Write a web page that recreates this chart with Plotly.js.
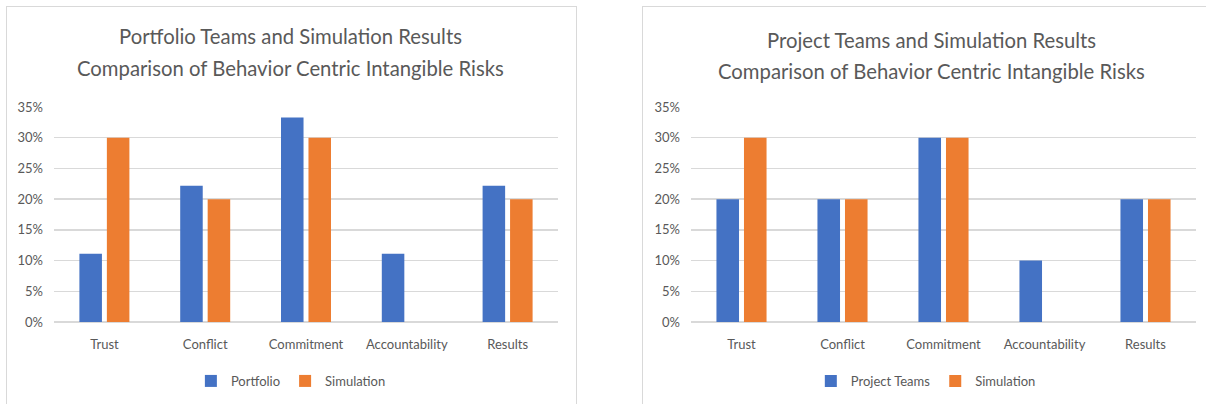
<!DOCTYPE html>
<html>
<head>
<meta charset="utf-8">
<script src="https://cdn.plot.ly/plotly-3.0.1.min.js"></script>
<style>
  html, body { margin: 0; padding: 0; width: 1206px; height: 404px; overflow: hidden; background: #fff; }
  .panel { position: absolute; border: 1px solid #d9d9d9; height: 430px; background: #fff; }
  #p1 { left: 6px; top: 6px; width: 569px; }
  #p2 { left: 642px; top: 6px; width: 600px; }
  .chart { position: absolute; left: 0; top: 0; height: 397px; }
  #c1 { width: 569px; }
  #c2 { width: 563px; }
</style>
</head>
<body>
<div class="panel" id="p1"><div class="chart" id="c1"></div></div>
<div class="panel" id="p2"><div class="chart" id="c2"></div></div>
<script>
// Data
const categories = ["Trust", "Conflict", "Commitment", "Accountability", "Results"];
const portfolio = [0.111, 0.222, 0.333, 0.111, 0.222];
const simulationLeft = [0.30, 0.20, 0.30, 0.0, 0.20];
const projectTeams = [0.20, 0.20, 0.30, 0.10, 0.20];
const simulationRight = [0.30, 0.20, 0.30, 0.0, 0.20];
const leftTitle = ["Portfolio Teams and Simulation Results", "Comparison of Behavior Centric Intangible Risks"];
const rightTitle = ["Project Teams and Simulation Results", "Comparison of Behavior Centric Intangible Risks"];
const seriesNamesLeft = ["Portfolio", "Simulation"];
const seriesNamesRight = ["Project Teams", "Simulation"];

const BLUE = "#4472C4", ORANGE = "#ED7D31";
const FONT = "Lato, 'Open Sans', sans-serif";
const TXT = "#595959";

function makeLayout(margin, titleLines, titleX, titleY, legendX) {
  return {
    width: margin.w, height: 397,
    margin: { l: margin.l, r: margin.r, t: 100, b: 82, autoexpand: false },
    paper_bgcolor: "#fff", plot_bgcolor: "#fff",
    font: { family: FONT, color: TXT, size: 13 },
    barmode: "group", bargap: 0.455, bargroupgap: 0.18,
    showlegend: true,
    legend: { orientation: "h", x: legendX, xanchor: "center", xref: "paper",
              y: 0.058, yref: "container", yanchor: "middle",
              font: { family: FONT, size: 13, color: TXT }, itemwidth: 30, traceorder: "normal" },
    xaxis: { type: "category", showgrid: false, showline: false, zeroline: false, ticks: "", automargin: false,
             tickfont: { family: FONT, size: 13, color: TXT }, ticklabelstandoff: 13 },
    yaxis: { range: [0, 0.35], dtick: 0.05, tickformat: ".0%", showgrid: true, gridcolor: "#d9d9d9",
             gridwidth: 1.3, zeroline: true, zerolinecolor: "#d9d9d9", zerolinewidth: 1.3, showline: false,
             automargin: false, ticks: "", tickfont: { family: FONT, size: 13, color: TXT }, ticklabelstandoff: 10 },
    annotations: [
      { text: titleLines[0], xref: "paper", yref: "paper", x: titleX, y: titleY[0], xanchor: "center", yanchor: "middle",
        showarrow: false, font: { family: FONT, size: 20.3, color: TXT } },
      { text: titleLines[1], xref: "paper", yref: "paper", x: titleX, y: titleY[1], xanchor: "center", yanchor: "middle",
        showarrow: false, font: { family: FONT, size: 20.3, color: TXT } }
    ]
  };
}

const cfg = { displayModeBar: false, staticPlot: true };

Plotly.newPlot("c1", [
  { type: "bar", name: seriesNamesLeft[0], x: categories, y: portfolio, marker: { color: BLUE } },
  { type: "bar", name: seriesNamesLeft[1], x: categories, y: simulationLeft, marker: { color: ORANGE } }
], makeLayout({ w: 569, l: 47, r: 18 }, leftTitle, 0.470, [1.330, 1.181], 0.470), cfg);

Plotly.newPlot("c2", [
  { type: "bar", name: seriesNamesRight[0], x: categories, y: projectTeams, marker: { color: BLUE } },
  { type: "bar", name: seriesNamesRight[1], x: categories, y: simulationRight, marker: { color: ORANGE } }
], makeLayout({ w: 563, l: 48, r: 10 }, rightTitle, 0.477, [1.311, 1.167], 0.465), cfg);
</script>
</body>
</html>
